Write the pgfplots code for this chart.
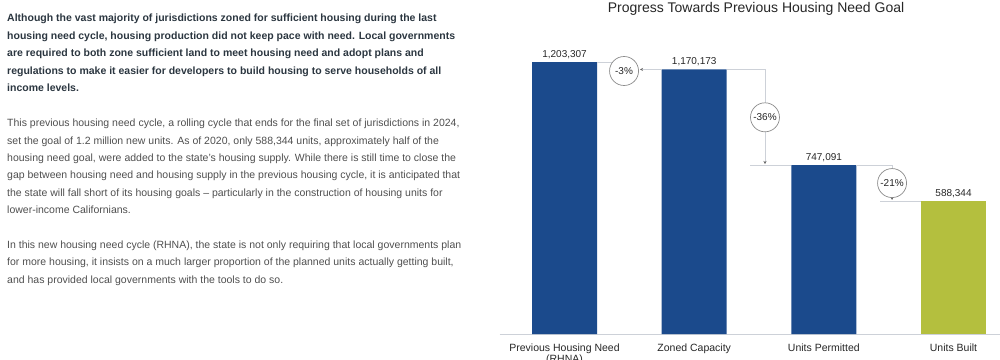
\documentclass[border=0pt]{standalone}
\usepackage{pgfplots}
\pgfplotsset{compat=1.18}
\usepackage{fontspec}
\setmainfont{Liberation Sans}
\usetikzlibrary{arrows.meta}
\definecolor{barblue}{HTML}{1B4A8C}
\definecolor{bargreen}{HTML}{B4BF3E}
\definecolor{boldtxt}{HTML}{2B3640}
\definecolor{bodytxt}{HTML}{4F4F4F}
\definecolor{conn}{HTML}{CDD1D8}
\definecolor{circ}{HTML}{8C8C8C}
\definecolor{lbl}{HTML}{262626}
\begin{document}
\begin{tikzpicture}[x=1pt,y=1pt]
\useasboundingbox (0pt,0pt) rectangle (1000pt,359pt);
\begin{scope}[every node/.style={anchor=base west, inner sep=0pt, font=\fontsize{10.5}{12}\selectfont\bfseries, text=boldtxt}]
\node at (7,337) {Although the vast majority of jurisdictions zoned for sufficient housing during the last};
\node at (7,319.5) {housing need cycle, housing production did not keep pace with need. Local governments};
\node at (7,302) {are required to both zone sufficient land to meet housing need and adopt plans and};
\node at (7,284.5) {regulations to make it easier for developers to build housing to serve households of all};
\node at (7,267) {income levels.};
\end{scope}
\begin{scope}[every node/.style={anchor=base west, inner sep=0pt, font=\fontsize{10.5}{12}\selectfont, text=bodytxt}]
\node at (7,232.3) {This previous housing need cycle, a rolling cycle that ends for the final set of jurisdictions in 2024,};
\node at (7,214.9) {set the goal of 1.2 million new units. As of 2020, only 588,344 units, approximately half of the};
\node at (7,197.5) {housing need goal, were added to the state’s housing supply. While there is still time to close the};
\node at (7,180.1) {gap between housing need and housing supply in the previous housing cycle, it is anticipated that};
\node at (7,162.7) {the state will fall short of its housing goals – particularly in the construction of housing units for};
\node at (7,145.3) {lower-income Californians.};
\node at (7,110.7) {In this new housing need cycle (RHNA), the state is not only requiring that local governments plan};
\node at (7,93.3) {for more housing, it insists on a much larger proportion of the planned units actually getting built,};
\node at (7,75.9) {and has provided local governments with the tools to do so.};
\end{scope}
\node[anchor=base, inner sep=0pt, font=\fontsize{14}{16}\selectfont, text=lbl] at (756,346.5) {Progress Towards Previous Housing Need Goal};
\begin{axis}[
  at={(499.7pt,25pt)}, anchor=south west, scale only axis,
  width=500.5pt, height=334pt,
  xmin=-0.5, xmax=3.36, ymin=0, ymax=1477600,
  clip=false,
  axis lines*=left,
  y axis line style={draw=none},
  x axis line style={draw=conn, line width=0.8pt, -},
  ytick=\empty, scaled y ticks=false,
  xtick={0,1,2,3},
  xticklabels={{Previous Housing Need\\(RHNA)},{Zoned Capacity},{Units Permitted},{Units Built}},
  major tick length=0pt,
  xticklabel style={align=center, font=\fontsize{10.5}{11.3}\selectfont, text=lbl, yshift=-6.5pt},
  every node near coord/.append style={font=\fontsize{10}{12}\selectfont, text=lbl},
  nodes near coords={\pgfmathprintnumber[fixed,precision=0,1000 sep={,},assume math mode=true]{\pgfplotspointmeta}},
]
\addplot[ybar, bar width=65pt, bar shift=0pt, fill=barblue, draw=none] coordinates {(0,1203307) (1,1170173) (2,747091)};
\addplot[ybar, bar width=65pt, bar shift=0pt, fill=bargreen, draw=none] coordinates {(3,588344)};
% connectors
\draw[conn, line width=0.8pt] (axis cs:0.25,1203307) -- (axis cs:0.459,1203307);
\draw[conn, line width=0.8pt, -{Stealth[length=3pt,width=3pt,color=black!60]}] (axis cs:0.75,1170173) -- (axis cs:0.582,1170173);
\draw[conn, line width=0.8pt] (axis cs:1.25,1170173) -- (axis cs:1.546,1170173);
\draw[conn, line width=0.8pt, -{Stealth[length=3pt,width=3pt,color=black!60]}] (axis cs:1.546,1170173) -- (axis cs:1.546,752000);
\draw[conn, line width=0.8pt] (axis cs:1.431,747091) -- (axis cs:1.75,747091);
\draw[conn, line width=0.8pt] (axis cs:2.25,747091) -- (axis cs:2.526,747091);
\draw[conn, line width=0.8pt, -{Stealth[length=3pt,width=3pt,color=black!60]}] (axis cs:2.526,747091) -- (axis cs:2.526,593000);
\draw[conn, line width=0.8pt] (axis cs:2.433,588344) -- (axis cs:2.75,588344);
\begin{scope}[every node/.style={circle, draw=circ, line width=0.7pt, fill=white, minimum size=29pt, inner sep=0pt, font=\fontsize{10}{12}\selectfont, text=lbl}]
\node at (axis cs:0.459,1163486) {-3\%};
\node at (axis cs:1.546,958632) {-36\%};
\node at (axis cs:2.526,667718) {-21\%};
\end{scope}
\end{axis}
\end{tikzpicture}
\end{document}
